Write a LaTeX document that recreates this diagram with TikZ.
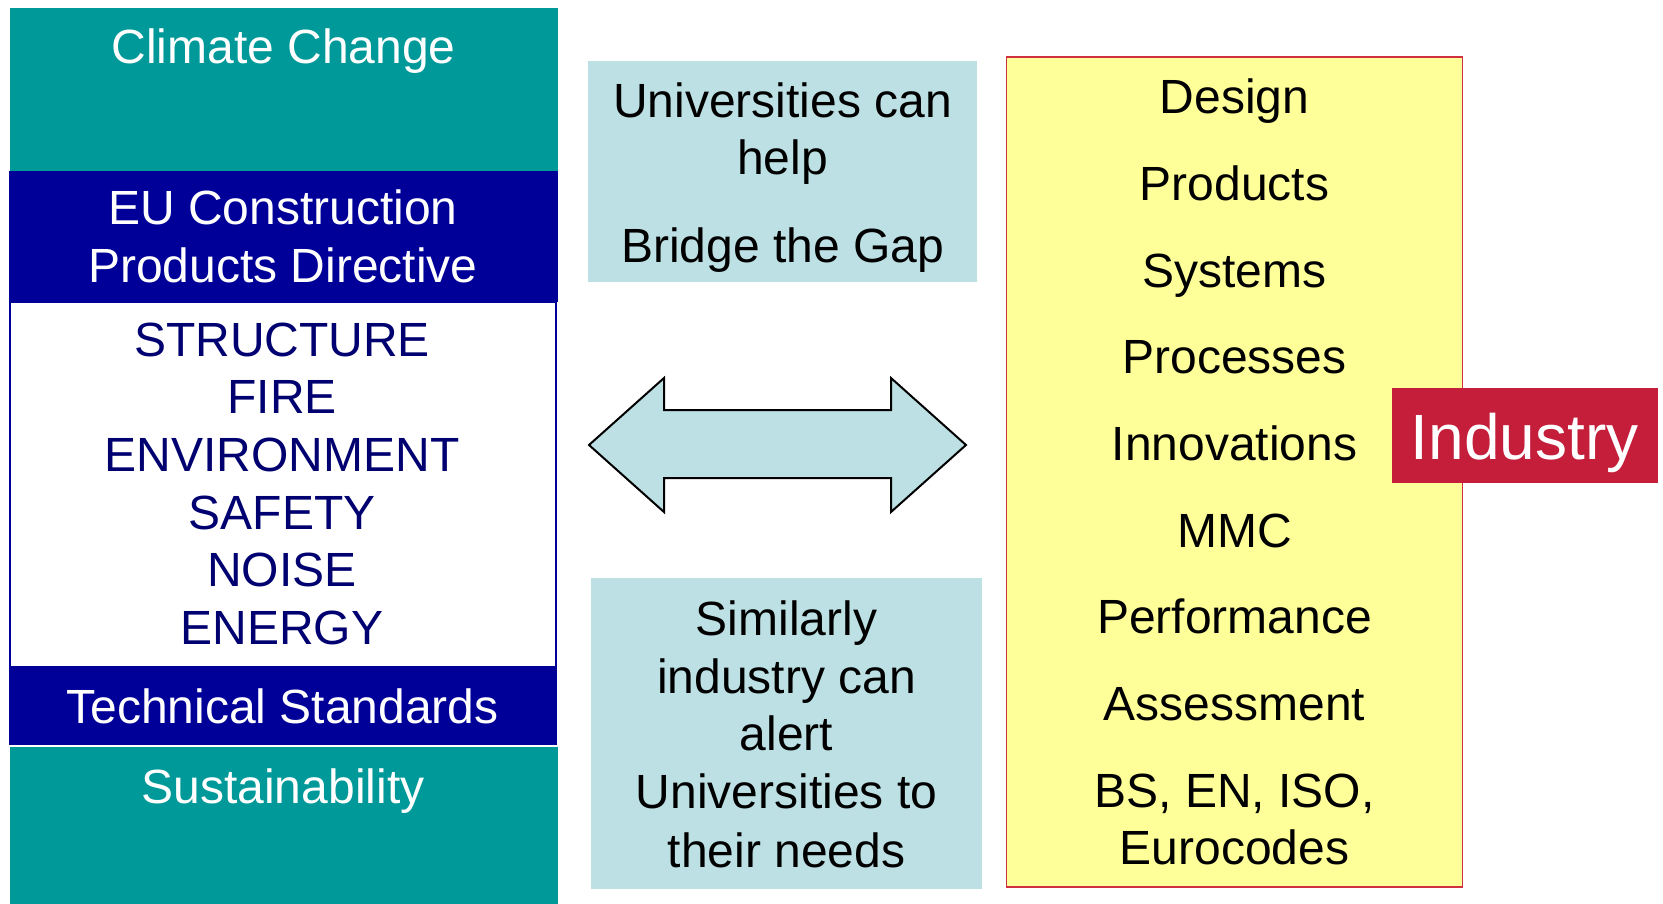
\documentclass[tikz,border=0pt]{standalone}
\usepackage{fontspec}
\setmainfont{Liberation Sans}
\definecolor{tealbox}{HTML}{009999}
\definecolor{navybox}{HTML}{000099}
\definecolor{navytxt}{HTML}{000070}
\definecolor{lblue}{HTML}{BCE0E3}
\definecolor{lyellow}{HTML}{FFFF99}
\definecolor{redline}{HTML}{D03040}
\definecolor{indred}{HTML}{C41E3A}
\tikzset{
  txt/.style={anchor=base, inner sep=0pt, font=\fontsize{48}{57.7}\selectfont},
  wtxt/.style={txt, text=white},
  ntxt/.style={txt, text=navytxt},
  ktxt/.style={txt, text=black},
}
\begin{document}
\begin{tikzpicture}[x=1pt,y=-1pt]
\useasboundingbox[fill=white] (0,0) rectangle (1663,904);
% left column
\fill[tealbox] (9.5,8.5) rectangle (558,171);
\fill[navybox] (8.5,171) rectangle (558,302);
\draw[navybox, line width=1.5pt, fill=white] (10,302) rectangle (556,667);
\fill[navybox] (8.5,667) rectangle (557,745);
\fill[tealbox] (9.5,747) rectangle (558,904);
\node[wtxt] (cc) at (283.5,64) {Climate Change};
\node[wtxt] (eu1) at (283,225) {EU Construction};
\node[wtxt] (eu2) at (283,282) {Products Directive};
\node[ntxt] (s1) at (282,356) {STRUCTURE};
\node[ntxt] (s2) at (282,413.7) {FIRE};
\node[ntxt] (s3) at (282,471.4) {ENVIRONMENT};
\node[ntxt] (s4) at (282,529.1) {SAFETY};
\node[ntxt] (s5) at (282,586.8) {NOISE};
\node[ntxt] (s6) at (282,644.5) {ENERGY};
\node[wtxt] (ts) at (282.5,723) {Technical Standards};
\node[wtxt] (su) at (283,803) {Sustainability};
% middle
\fill[lblue] (588,61.5) rectangle (977,282);
\node[ktxt] (u1) at (782.5,118) {Universities can};
\node[ktxt] (u2) at (782.5,175) {help};
\node[ktxt] (u3) at (782.5,262) {Bridge the Gap};
\draw[black, line width=2pt, fill=lblue, line join=miter]
  (589,445) -- (664,378) -- (664,410) -- (891,410) -- (891,378) -- (966,445)
  -- (891,512) -- (891,478) -- (664,478) -- (664,512) -- cycle;
\fill[lblue] (591,578) rectangle (982,889);
\node[ktxt] (m1) at (786.5,635) {Similarly};
\node[ktxt] (m2) at (786.5,693) {industry can};
\node[ktxt] (m3) at (786.5,750) {alert};
\node[ktxt] (m4) at (786.5,808) {Universities to};
\node[ktxt] (m5) at (786.5,867) {their needs};
% right
\draw[redline, line width=1.5pt, fill=lyellow] (1006.5,57) rectangle (1462.5,887);
\node[ktxt] (r1) at (1234.5,114) {Design};
\node[ktxt] (r2) at (1234.5,200.5) {Products};
\node[ktxt] (r3) at (1234.5,287.5) {Systems};
\node[ktxt] (r4) at (1234.5,373.5) {Processes};
\node[ktxt] (r5) at (1234.5,460.5) {Innovations};
\node[ktxt] (r6) at (1234.5,547.5) {MMC};
\node[ktxt] (r7) at (1234.5,633.5) {Performance};
\node[ktxt] (r8) at (1234.5,720.5) {Assessment};
\node[ktxt] (r9) at (1234.5,807) {BS, EN, ISO,};
\node[ktxt] (r10) at (1234.5,864.5) {Eurocodes};
\fill[indred] (1391.5,388) rectangle (1658,482.6);
\node[txt, text=white, font=\fontsize{64}{70}\selectfont] (ind) at (1524.8,459) {Industry};
\end{tikzpicture}
\end{document}
